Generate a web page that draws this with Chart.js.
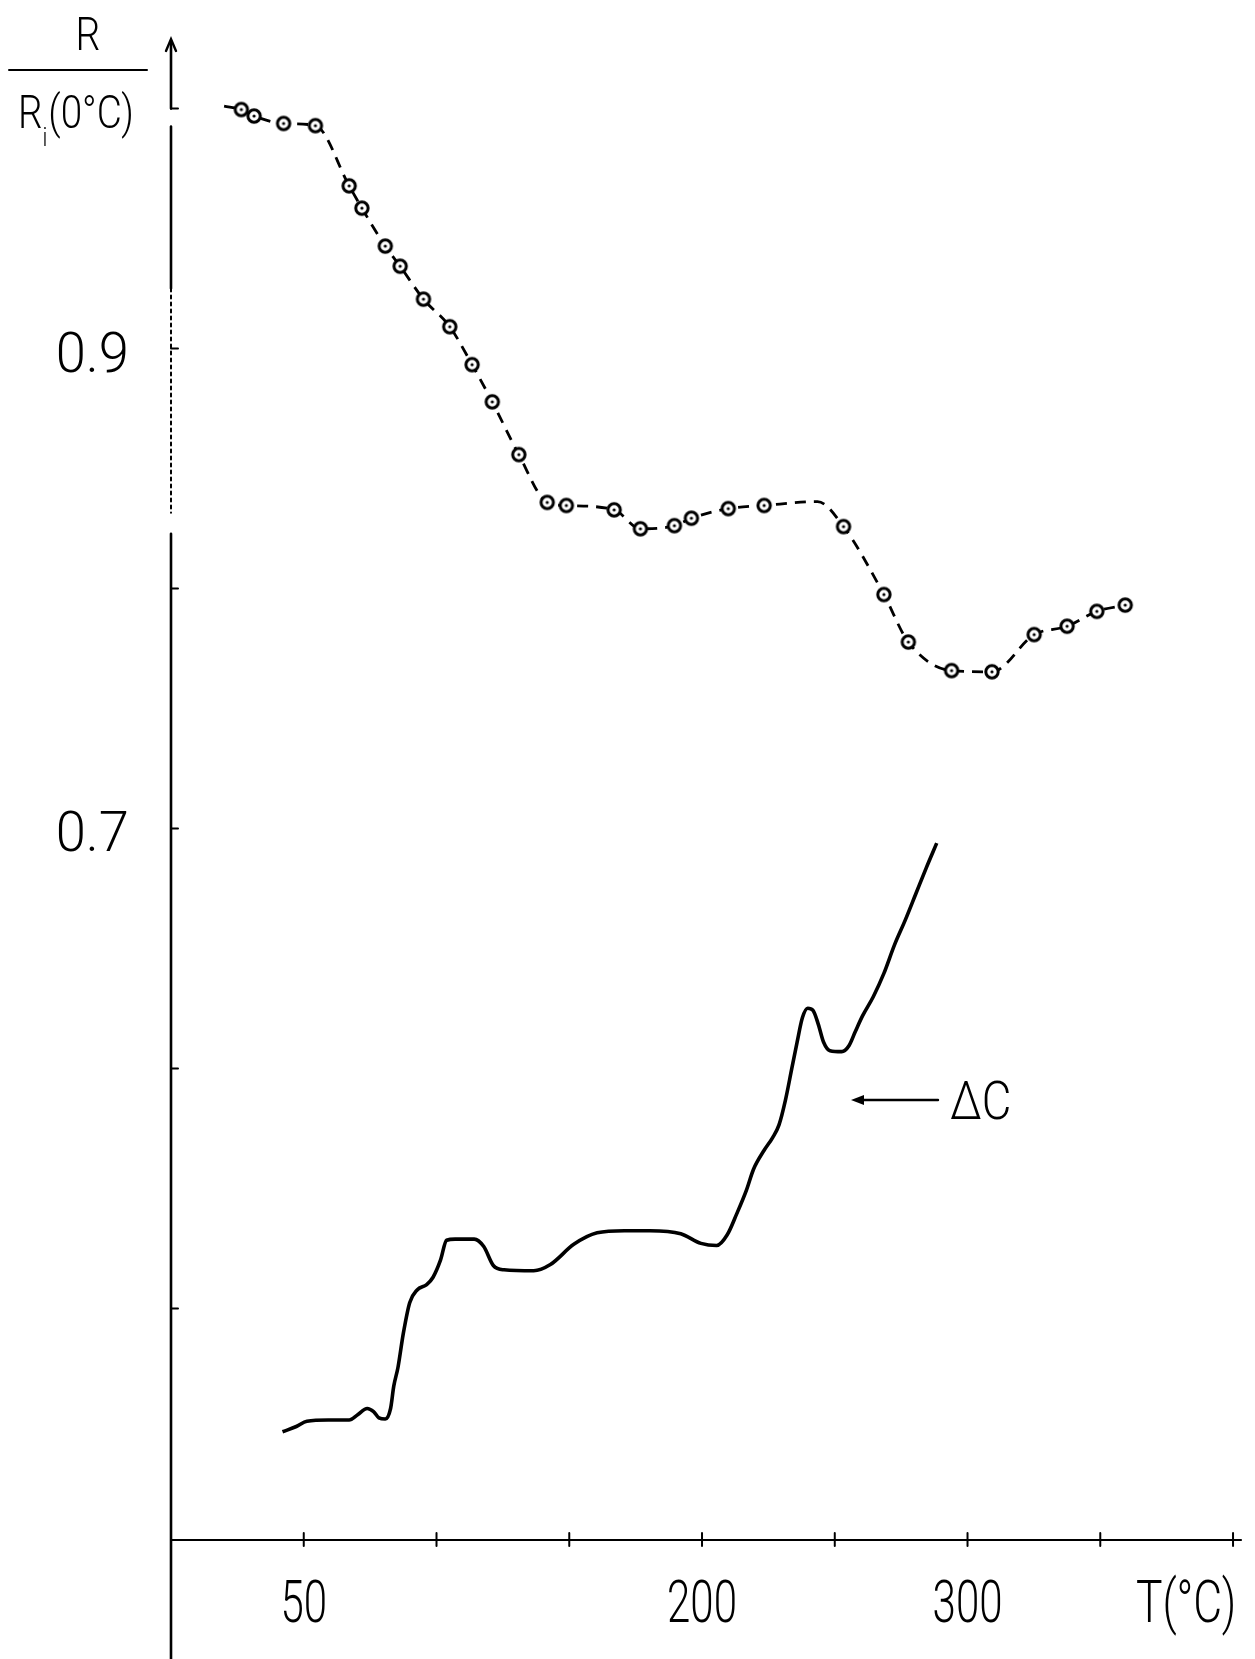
<!DOCTYPE html>
<html>
<head>
<meta charset="utf-8">
<script src="https://cdn.jsdelivr.net/npm/chart.js@4.4.1/dist/chart.umd.min.js"></script>
<style>
body{margin:0;background:#fff}
</style>
</head>
<body>
<canvas id="chart" width="1255" height="1659"></canvas>
<script>
// R / Ri(0°C) vs temperature, open circles joined by a dashed guide
const resT = [20, 26.5, 31.3, 42.4, 54.4, 67.1, 71.9, 80.7, 86.3, 95.1, 105.0, 113.4, 121.0, 131.0, 141.7, 148.9,
  166.9, 176.8, 189.6, 196.0, 209.9, 223.4, 243.5, 253.3, 268.5, 277.7, 294.0, 309.2, 325.1, 337.5, 348.7, 359.4]
const resVal = [1.001, 0.9996, 0.9969, 0.9938, 0.9929, 0.9678, 0.9585, 0.9427, 0.9343, 0.9206, 0.9091, 0.8933, 0.8778, 0.8558, 0.8359, 0.8346,
  0.8328, 0.8249, 0.8262, 0.8293, 0.8333, 0.8346, 0.8362, 0.8258, 0.7975, 0.7777, 0.7658, 0.7653, 0.7808, 0.7843, 0.7905, 0.7931]
// 1 = measured point (circle), 0 = only a bend of the dashed guide
const resMarked = [0, 1, 1, 1, 1, 1, 1, 1, 1, 1, 1, 1, 1, 1, 1, 1,
  1, 1, 1, 1, 1, 1, 0, 1, 1, 1, 1, 1, 1, 1, 1, 1]

// ΔC trace (solid)
const dcT = [42.0, 47.2, 51.2, 59.2, 67.1, 70.3, 73.9, 76.3, 78.3, 80.7, 82.7, 83.9, 85.5, 87.5, 89.9, 92.7, 96.3, 98.7, 101.5, 103.8,
  107.0, 114.2, 117.8, 121.4, 125.4, 136.6, 142.9, 151.7, 160.5, 170.8, 180.4, 192.0, 199.6, 205.5, 209.5, 213.1, 216.7, 219.4, 223.4, 226.6,
  229.0, 231.4, 233.8, 235.8, 237.8, 239.8, 241.8, 243.8, 245.8, 248.2, 252.6, 255.4, 257.7, 260.5, 264.5, 268.5, 272.5, 276.5, 280.5, 284.5, 288.4]
const dcVal = [0.4486, 0.4508, 0.4530, 0.4535, 0.4535, 0.4557, 0.4583, 0.4570, 0.4544, 0.4539, 0.4583, 0.4676, 0.4755, 0.4896, 0.5024, 0.5077, 0.5099, 0.5130, 0.5201, 0.5284,
  0.5289, 0.5289, 0.5258, 0.5179, 0.5161, 0.5157, 0.5183, 0.5267, 0.5315, 0.5324, 0.5324, 0.5311, 0.5271, 0.5262, 0.5307, 0.5395, 0.5492, 0.5580, 0.5659, 0.5712,
  0.5765, 0.5867, 0.5999, 0.6109, 0.6211, 0.6251, 0.6242, 0.6184, 0.6109, 0.6074, 0.6070, 0.6096, 0.6153, 0.6220, 0.6299, 0.6396, 0.6515, 0.6617, 0.6727, 0.6837, 0.6939]

const xTicks = [50, 100, 150, 200, 250, 300, 350, 400]
const xLabels = [50, 200, 300]
const yTicks = [0.5, 0.6, 0.7, 0.8, 0.9, 1.0]
const yLabels = [0.7, 0.9]

const FONT = "Roboto, 'Liberation Sans', Arial, sans-serif"

// the original lettering is thin and condensed, so squash it horizontally
function drawText(ctx, str, x, y, size, sx, align){
  ctx.save()
  ctx.font = '300 ' + size + 'px ' + FONT
  ctx.textAlign = align
  ctx.textBaseline = 'alphabetic'
  ctx.translate(x, y)
  ctx.scale(sx, 1)
  ctx.fillText(str, 0, 0)
  ctx.restore()
}

// circle with a dot in the middle
function makeMarker(){
  const c = document.createElement('canvas')
  c.width = c.height = 20
  const g = c.getContext('2d')
  g.fillStyle = '#fff'
  g.strokeStyle = '#000'
  g.lineWidth = 3
  g.beginPath(); g.arc(10, 10, 6.2, 0, Math.PI * 2); g.fill(); g.stroke()
  g.fillStyle = '#000'
  g.beginPath(); g.arc(10, 10, 1.6, 0, Math.PI * 2); g.fill()
  return c
}
const marker = makeMarker()

const axesPlugin = {
  id: 'axes',
  afterDraw(chart){
    const {ctx, scales: {x, y}} = chart
    const x0 = x.getPixelForValue(0)
    const yb = y.bottom
    const yp = v => y.getPixelForValue(v)
    ctx.save()
    ctx.strokeStyle = '#000'
    ctx.fillStyle = '#000'
    ctx.lineCap = 'round'

    // y axis, broken like the original, runs past the x axis to the bottom edge
    ctx.lineWidth = 2.6
    ctx.beginPath()
    ctx.moveTo(x0, y.top + 2); ctx.lineTo(x0, yp(1.0))
    ctx.moveTo(x0, yp(0.9925)); ctx.lineTo(x0, yp(0.925))
    ctx.moveTo(x0, yp(0.8228)); ctx.lineTo(x0, chart.height)
    ctx.stroke()
    ctx.lineWidth = 2
    ctx.setLineDash([3, 4])
    ctx.beginPath()
    ctx.moveTo(x0, yp(0.925)); ctx.lineTo(x0, yp(0.8316))
    ctx.stroke()
    ctx.setLineDash([])
    // arrow head
    ctx.lineWidth = 2.4
    ctx.beginPath()
    ctx.moveTo(x0 - 5, y.top + 12)
    ctx.lineTo(x0, y.top)
    ctx.lineTo(x0 + 5, y.top + 12)
    ctx.stroke()
    ctx.lineWidth = 2
    yTicks.forEach(v => {
      const py = yp(v)
      ctx.beginPath(); ctx.moveTo(x0, py); ctx.lineTo(x0 + 7, py); ctx.stroke()
    })
    yLabels.forEach(v => {
      drawText(ctx, v.toFixed(1), x0 - 42, yp(v) + 23, 56, 0.97, 'right')
    })

    // x axis
    ctx.lineWidth = 2.2
    ctx.beginPath()
    ctx.moveTo(x0, yb)
    ctx.lineTo(x.right, yb)
    ctx.stroke()
    ctx.lineWidth = 2
    xTicks.forEach(v => {
      const px = x.getPixelForValue(v)
      ctx.beginPath(); ctx.moveTo(px, yb - 7); ctx.lineTo(px, yb + 6); ctx.stroke()
    })
    xLabels.forEach(v => {
      drawText(ctx, String(v), x.getPixelForValue(v), yb + 82, 60, 0.7, 'center')
    })
    drawText(ctx, 'T(°C)', 1186, yb + 82, 60, 0.74, 'center')

    // y title: R over Ri(0°C)
    drawText(ctx, 'R', 88, 50, 46, 0.85, 'center')
    ctx.lineWidth = 2
    ctx.beginPath(); ctx.moveTo(9, 70); ctx.lineTo(147, 70); ctx.stroke()
    ctx.save()
    ctx.translate(18, 128)
    ctx.scale(0.84, 1)
    ctx.textAlign = 'left'
    ctx.textBaseline = 'alphabetic'
    ctx.font = '300 46px ' + FONT
    let cx = 0
    ctx.fillText('R', cx, 0)
    cx += ctx.measureText('R').width
    ctx.font = '300 26px ' + FONT
    ctx.fillText('i', cx, 18)
    cx += ctx.measureText('i').width + 1
    ctx.font = '300 46px ' + FONT
    ctx.fillText('(0°C)', cx, 0)
    ctx.restore()

    // ΔC arrow
    const ay = 1100
    ctx.lineWidth = 2.4
    ctx.beginPath(); ctx.moveTo(938, ay); ctx.lineTo(860, ay); ctx.stroke()
    ctx.beginPath(); ctx.moveTo(851, ay); ctx.lineTo(864, ay - 5); ctx.lineTo(864, ay + 5); ctx.closePath(); ctx.fill()
    drawText(ctx, 'ΔC', 950, 1119, 53, 0.86, 'left')
    ctx.restore()
  }
}

new Chart(document.getElementById('chart'), {
  type: 'line',
  data: {
    datasets: [
      {
        data: resT.map((t, i) => ({x: t, y: resVal[i]})),
        borderColor: '#000',
        borderWidth: 2.8,
        borderDash: [11, 8],
        cubicInterpolationMode: 'monotone',
        pointStyle: ctx => resMarked[ctx.dataIndex] ? marker : false,
        pointRadius: ctx => resMarked[ctx.dataIndex] ? 7 : 0
      },
      {
        data: dcT.map((t, i) => ({x: t, y: dcVal[i]})),
        borderColor: '#000',
        borderWidth: 3.6,
        pointRadius: 0,
        cubicInterpolationMode: 'monotone'
      }
    ]
  },
  options: {
    responsive: false,
    animation: false,
    devicePixelRatio: 1,
    layout: {padding: {left: 0, right: 14, top: 39, bottom: 0}},
    plugins: {legend: {display: false}, tooltip: {enabled: false}},
    scales: {
      x: {
        type: 'linear', min: 0, max: 403,
        afterBuildTicks: s => { s.ticks = xTicks.map(v => ({value: v})) },
        afterFit: s => { s.height = 119; s.paddingLeft = 0; s.paddingRight = 0 },
        grid: {display: false, drawTicks: false},
        border: {display: false},
        ticks: {display: false}
      },
      y: {
        type: 'linear', min: 0.4035, max: 1.029,
        afterBuildTicks: s => { s.ticks = yTicks.map(v => ({value: v})) },
        afterFit: s => { s.width = 171; s.paddingTop = 0; s.paddingBottom = 0 },
        grid: {display: false, drawTicks: false},
        border: {display: false},
        ticks: {display: false}
      }
    }
  },
  plugins: [axesPlugin]
})
</script>
</body>
</html>
